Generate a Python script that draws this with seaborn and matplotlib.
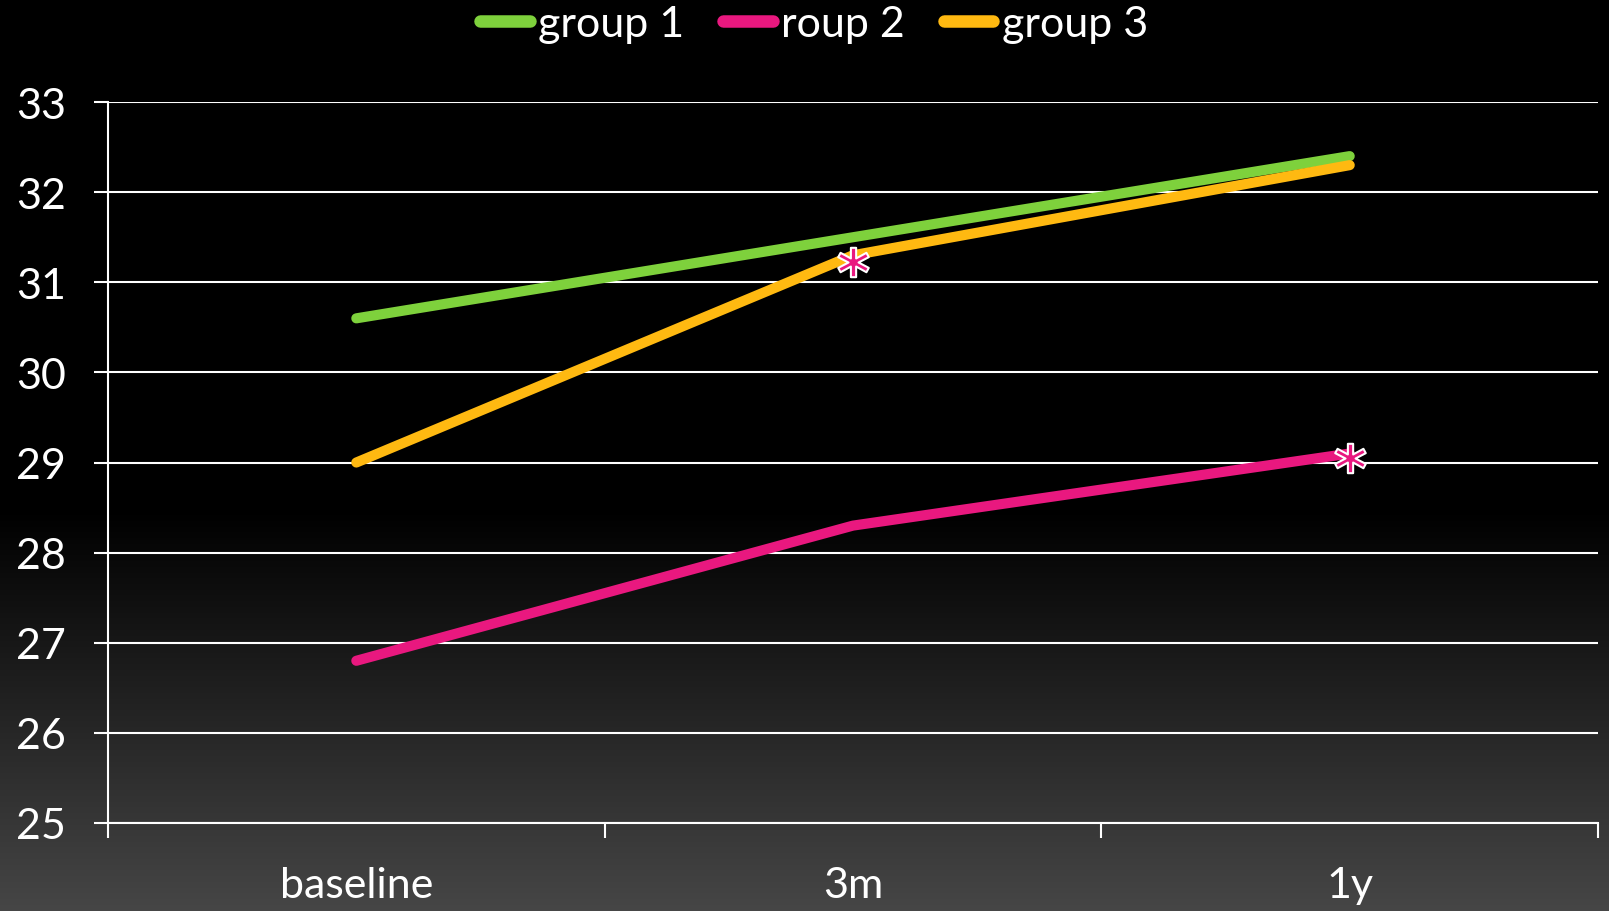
import numpy as np
import pandas as pd
import matplotlib
matplotlib.use("Agg")
import matplotlib.pyplot as plt
import seaborn as sns

categories = ["baseline", "3m", "1y"]
group1 = [30.6, 31.5, 32.4]
group2 = [26.8, 28.3, 29.1]
group3 = [29.0, 31.3, 32.3]
series_names = ["group 1", "roup 2", "group 3"]
sig_x = ["3m", "1y"]
sig_y = [31.22, 29.05]
y_ticks = [25, 26, 27, 28, 29, 30, 31, 32, 33]

colors = ["#7ed13c", "#e9187f", "#ffb911"]

sns.set_theme(style="white")
plt.rcParams["font.family"] = ["Lato", "DejaVu Sans"]

rows = []
for name, vals in zip(series_names, [group1, group2, group3]):
    for c, v in zip(categories, vals):
        rows.append({"time": c, "value": v, "group": name})
df = pd.DataFrame(rows)
df["time"] = pd.Categorical(df["time"], categories=categories, ordered=True)
df["xpos"] = df["time"].cat.codes

fig = plt.figure(figsize=(16.09, 9.12), dpi=100)

# background gradient
bg = fig.add_axes([0, 0, 1, 1], zorder=-10)
h = 912
grad = np.zeros(h)
start = int(h * 0.56)
grad[start:] = np.linspace(0, 0x46 / 255.0, h - start)
img = np.repeat(grad[:, None], 4, axis=1)
bg.imshow(np.dstack([img, img, img]), aspect="auto", extent=[0, 1, 0, 1], origin="upper")
bg.set_axis_off()

ax = fig.add_axes([0.0671, 0.0965, 0.9261, 0.7905])
ax.set_facecolor("none")

sns.lineplot(data=df, x="xpos", y="value", hue="group", palette=colors,
             hue_order=series_names, linewidth=7.3, ax=ax, sort=False, zorder=3)

for line in ax.get_lines():
    line.set_solid_capstyle("round")
    line.set_solid_joinstyle("round")

idx = [categories.index(s) for s in sig_x]
ax.plot(idx, sig_y, linestyle="none", marker=r"$\mathbf{*}$", markersize=22,
        markerfacecolor=colors[1], markeredgecolor="white", markeredgewidth=1.5, zorder=5)

ax.set_xlim(-0.5, 2.5)
ax.set_ylim(25, 33)
ax.set_yticks(y_ticks)
ax.set_yticklabels([str(t) for t in y_ticks], color="white", fontsize=31)
ax.set_xticks(range(len(categories)))
ax.set_xticklabels(categories, color="white", fontsize=31)
ax.set_xticks([-0.5, 0.5, 1.5, 2.5], minor=True)
ax.tick_params(axis="x", which="major", bottom=True, length=0, pad=31)
ax.tick_params(axis="x", which="minor", bottom=True, length=11, width=1.5, color="white", direction="out")
ax.tick_params(axis="y", which="major", left=True, length=10, width=1.5, color="white", direction="out", pad=20)
ax.set_xlabel("")
ax.set_ylabel("")

for y in y_ticks:
    ax.axhline(y, color="white", linewidth=1.5, zorder=1)

for s in ["top", "right"]:
    ax.spines[s].set_visible(False)
ax.spines["left"].set_color("white")
ax.spines["left"].set_linewidth(1.5)
ax.spines["bottom"].set_color("white")
ax.spines["bottom"].set_linewidth(1.5)

handles, labels = ax.get_legend_handles_labels()
for hd in handles:
    hd.set_solid_capstyle("round")
    hd.set_linewidth(9)
leg = ax.legend(handles, labels, loc="upper center", ncol=3, frameon=False, fontsize=31,
                handlelength=1.15, handletextpad=0.2, columnspacing=0.9, borderaxespad=0.0,
                labelcolor="white")
leg.set_bbox_to_anchor((814 / 1609, 1.012), transform=fig.transFigure)

fig.savefig("out.png", dpi=100)
